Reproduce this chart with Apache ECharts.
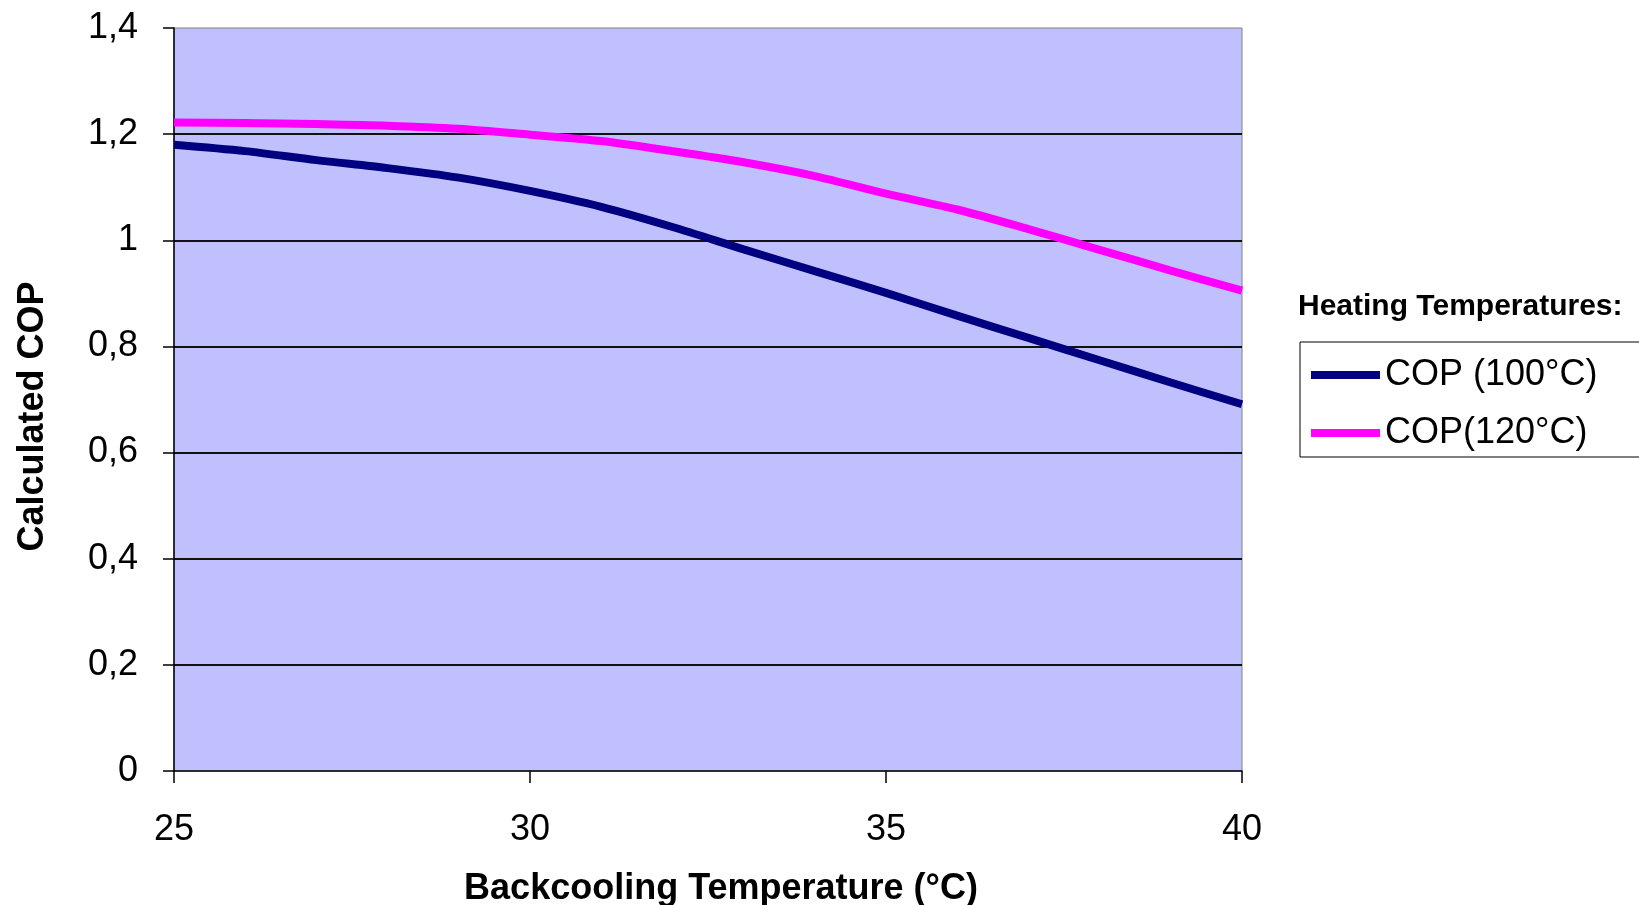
<!DOCTYPE html>
<html>
<head>
<meta charset="utf-8">
<script src="https://cdn.jsdelivr.net/npm/echarts@6/dist/echarts.min.js"></script>
<style>
  html, body { margin: 0; padding: 0; background: #fff; }
  #chart { width: 1639px; height: 905px; }
</style>
</head>
<body>
<div id="chart"></div>
<script>
// backcooling temperature (°C) on the x axis
const tempC = [25, 26, 27, 28, 29, 30, 31, 32, 33, 34, 35, 36, 37, 38, 39, 40];
// calculated COP
const cop100 = [1.180, 1.168, 1.151, 1.136, 1.118, 1.093, 1.063, 1.025, 0.983, 0.942, 0.901, 0.858, 0.816, 0.774, 0.732, 0.691];
const cop120 = [1.222, 1.221, 1.219, 1.216, 1.210, 1.199, 1.187, 1.168, 1.147, 1.121, 1.088, 1.058, 1.021, 0.982, 0.943, 0.905];
const seriesNames = ['COP (100°C)', 'COP(120°C)'];

const font = "'Liberation Sans', Arial, sans-serif";
const chart = echarts.init(document.getElementById('chart'));

const toPairs = (ys) => tempC.map((x, i) => [x, ys[i]]);

const option = {
  backgroundColor: '#fff',
  animation: false,
  textStyle: { fontFamily: font },
  title: {
    text: 'Heating Temperatures:',
    left: 1298,
    top: 292,
    padding: 0,
    textStyle: { fontFamily: font, fontSize: 30, fontWeight: 'bold', color: '#000' }
  },
  legend: {
    orient: 'vertical',
    left: 1300,
    top: 342,
    padding: [13, 200, 4, 11],
    itemGap: 18,
    itemWidth: 69,
    itemHeight: 8,
    icon: 'rect',
    borderColor: '#000',
    borderWidth: 1,
    data: seriesNames,
    textStyle: { fontFamily: font, fontSize: 36, color: '#000', lineHeight: 40 }
  },
  grid: {
    left: 174,
    top: 28,
    width: 1068,
    height: 743,
    containLabel: false,
    outerBoundsMode: 'none',
    show: true,
    backgroundColor: '#C0C0FF',
    borderColor: '#808080',
    borderWidth: 1
  },
  xAxis: {
    type: 'value',
    min: 25,
    max: 40,
    interval: 5,
    name: 'Backcooling Temperature (°C)',
    nameLocation: 'middle',
    nameGap: 100,
    nameTextStyle: { fontFamily: font, fontSize: 36, fontWeight: 'bold', color: '#000', padding: [0, 0, 0, 26] },
    axisLine: { lineStyle: { color: '#000', width: 1.5 } },
    axisTick: { show: true, inside: false, length: 12, lineStyle: { color: '#000', width: 1.5 } },
    axisLabel: { fontFamily: font, fontSize: 36, color: '#000', margin: 41 },
    splitLine: { show: false }
  },
  yAxis: {
    type: 'value',
    min: 0,
    max: 1.4,
    interval: 0.2,
    name: 'Calculated COP',
    nameLocation: 'middle',
    nameRotate: 90,
    nameGap: 123,
    nameTextStyle: { fontFamily: font, fontSize: 36, fontWeight: 'bold', color: '#000', padding: [0, 34, 0, 0] },
    axisLine: { show: true, lineStyle: { color: '#000', width: 1.5 } },
    axisTick: { show: true, inside: false, length: 11, lineStyle: { color: '#000', width: 1.5 } },
    axisLabel: {
      fontFamily: font,
      fontSize: 36,
      color: '#000',
      margin: 36,
      formatter: (v) => String(+v.toFixed(1)).replace('.', ',')
    },
    splitLine: { show: true, showMinLine: false, showMaxLine: false, lineStyle: { color: '#111', width: 2 } }
  },
  series: [
    {
      name: seriesNames[0],
      type: 'line',
      data: toPairs(cop100),
      showSymbol: false,
      smooth: 0.3,
      color: '#000080',
      lineStyle: { color: '#000080', width: 8 }
    },
    {
      name: seriesNames[1],
      type: 'line',
      data: toPairs(cop120),
      showSymbol: false,
      smooth: 0.3,
      color: '#FF00FF',
      lineStyle: { color: '#FF00FF', width: 8 }
    }
  ]
};

chart.setOption(option);
</script>
</body>
</html>
